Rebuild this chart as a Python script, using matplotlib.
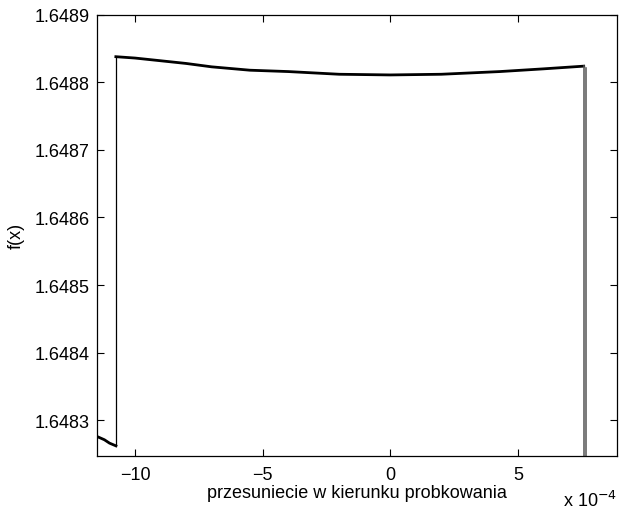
import matplotlib
matplotlib.use("Agg")
import matplotlib.pyplot as plt

plt.rcParams["font.family"] = ["Liberation Sans", "DejaVu Sans"]
plt.rcParams["font.size"] = 13

# x in units of 1e-4
left_x = [-11.5, -11.2, -11.0, -10.75]
left_y = [1.648276, 1.648271, 1.648266, 1.648262]

top_x = [-10.75, -10.0, -9.0, -8.0, -7.0, -5.5, -4.0, -2.0, 0.0, 2.0, 4.3, 6.0, 7.58]
top_y = [1.648838, 1.648836, 1.648832, 1.648828, 1.648823, 1.648818, 1.648816,
         1.648812, 1.648811, 1.648812, 1.648816, 1.648820, 1.648824]

drop_x = [7.58, 7.58, 7.66, 7.66]
drop_y = [1.648824, 1.64820, 1.64820, 1.648822]

xticks = [-10, -5, 0, 5]
yticks = [1.6483, 1.6484, 1.6485, 1.6486, 1.6487, 1.6488, 1.6489]

fig = plt.figure(figsize=(6.2, 5.1), dpi=100)
ax = fig.add_axes([0.156, 0.104, 0.839, 0.865])

ax.plot(left_x, left_y, color="black", lw=2.0)
ax.plot([top_x[0], top_x[0]], [left_y[-1], top_y[0]], color="black", lw=0.9)
ax.plot(top_x, top_y, color="black", lw=2.0)
ax.plot(drop_x, drop_y, color="#555555", lw=1.1)

ax.set_xlim(-11.5, 8.88)
ax.set_ylim(1.648247, 1.6489)
ax.set_xticks(xticks)
ax.set_yticks(yticks)
ax.set_yticklabels([f"{v:.4f}" for v in yticks])
ax.set_xticklabels([str(v).replace("-", "\u2212") for v in xticks])
ax.tick_params(direction="in", top=True, right=True, length=5, width=0.8)
ax.tick_params(axis="x", pad=7)
ax.tick_params(axis="y", pad=5)
for s in ax.spines.values():
    s.set_linewidth(0.9)

ax.set_xlabel("przesuniecie w kierunku probkowania", labelpad=1)
ax.set_ylabel("f(x)", labelpad=7)
fig.text(0.908, 0.006, r"x 10$^{-4}$", fontsize=13, va="baseline")

fig.savefig("out.png", dpi=100)
